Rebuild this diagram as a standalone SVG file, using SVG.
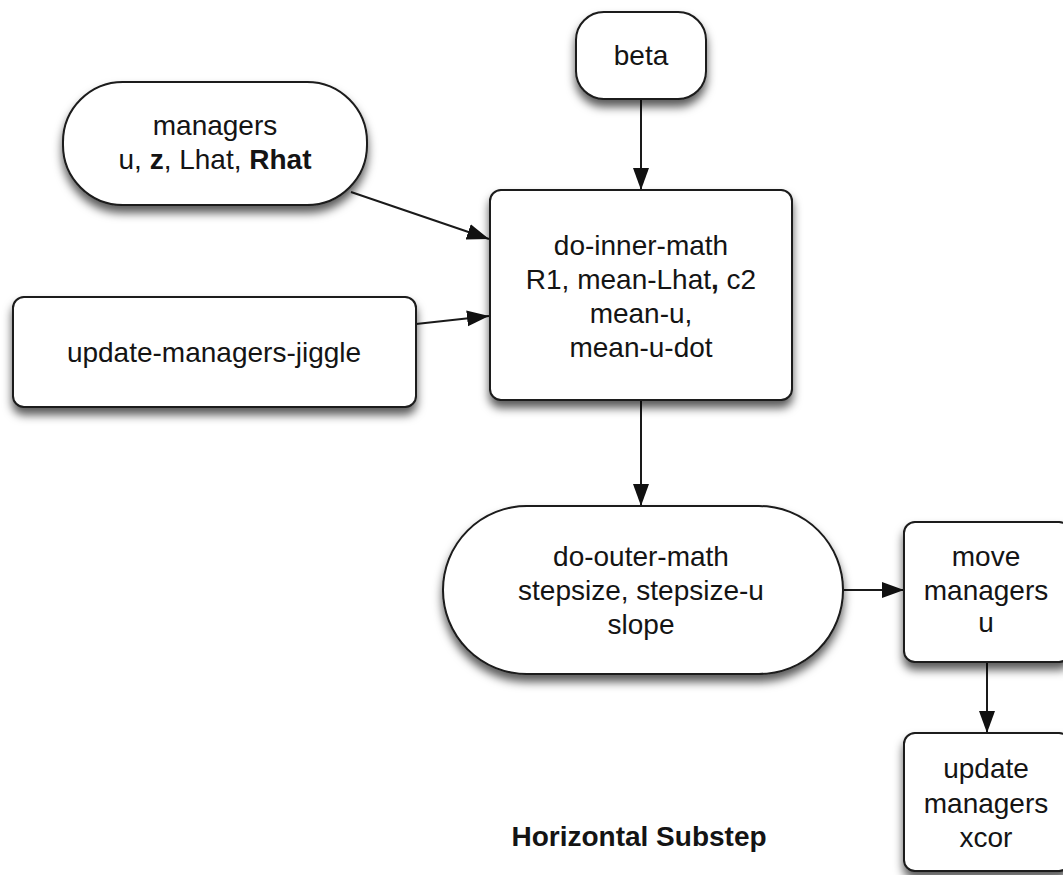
<svg xmlns="http://www.w3.org/2000/svg" width="1063" height="875" viewBox="0 0 1063 875">
  <style>
    .box { fill: #ffffff; stroke: #1a1a1a; stroke-width: 2; filter: url(#shadow); }
    .lbl { font-family: "Liberation Sans", Arial, sans-serif; font-size: 28px; fill: #141414; text-anchor: middle; }
    .b { font-weight: bold; }
    .edge { stroke: #1a1a1a; stroke-width: 2; fill: none; marker-end: url(#arrow); }
  </style>
  <defs>
    <filter id="shadow" x="-20%" y="-20%" width="140%" height="160%">
      <feDropShadow dx="0" dy="7" stdDeviation="5" flood-color="#000000" flood-opacity="0.65"/>
    </filter>
    <marker id="arrow" markerUnits="userSpaceOnUse" markerWidth="24" markerHeight="18" refX="22" refY="9" orient="auto">
      <path d="M0,1 L22,9 L0,17 Z" fill="#111111"/>
    </marker>
  </defs>
  <rect width="1063" height="875" fill="#ffffff"/>

  <!-- connectors -->
  <g id="connectors">
    <line class="edge" x1="641" y1="99" x2="641" y2="190"/>
    <line class="edge" x1="351" y1="192" x2="489" y2="239"/>
    <line class="edge" x1="416" y1="324" x2="489" y2="316"/>
    <line class="edge" x1="641" y1="400" x2="641" y2="506"/>
    <line class="edge" x1="843" y1="590" x2="904" y2="590"/>
    <line class="edge" x1="987" y1="662" x2="987" y2="733"/>
  </g>

  <g id="beta">
    <rect class="box" x="576" y="12" width="130" height="87" rx="28" ry="28"/>
    <text class="lbl" x="641" y="65">beta</text>
  </g>

  <g id="managers">
    <rect class="box" x="63" y="82" width="304" height="123" rx="60" ry="60"/>
    <text class="lbl" x="215" y="135">managers</text>
    <text class="lbl" x="215" y="169">u, <tspan class="b">z</tspan>, Lhat, <tspan class="b">Rhat</tspan></text>
  </g>

  <g id="update-managers-jiggle">
    <rect class="box" x="13" y="297" width="403" height="110" rx="11" ry="11"/>
    <text class="lbl" x="214" y="362">update-managers-jiggle</text>
  </g>

  <g id="do-inner-math">
    <rect class="box" x="490" y="190" width="302" height="210" rx="11" ry="11"/>
    <text class="lbl" x="641" y="255">do-inner-math</text>
    <text class="lbl" x="641" y="289">R1, mean-Lhat<tspan class="b">,</tspan> c2</text>
    <text class="lbl" x="641" y="323">mean-u,</text>
    <text class="lbl" x="641" y="357">mean-u-dot</text>
  </g>

  <g id="do-outer-math">
    <rect class="box" x="443" y="506" width="400" height="168" rx="84" ry="84"/>
    <text class="lbl" x="641" y="566">do-outer-math</text>
    <text class="lbl" x="641" y="600">stepsize, stepsize-u</text>
    <text class="lbl" x="641" y="634">slope</text>
  </g>

  <g id="move-managers">
    <rect class="box" x="904" y="522" width="166" height="140" rx="11" ry="11"/>
    <text class="lbl" x="986" y="566">move</text>
    <text class="lbl" x="986" y="600">managers</text>
    <text class="lbl" x="986" y="632">u</text>
  </g>

  <g id="update-managers">
    <rect class="box" x="904" y="733" width="166" height="138" rx="11" ry="11"/>
    <text class="lbl" x="986" y="778">update</text>
    <text class="lbl" x="986" y="813">managers</text>
    <text class="lbl" x="986" y="847">xcor</text>
  </g>

  <g id="title">
    <text class="lbl b" x="639" y="846">Horizontal Substep</text>
  </g>
</svg>
